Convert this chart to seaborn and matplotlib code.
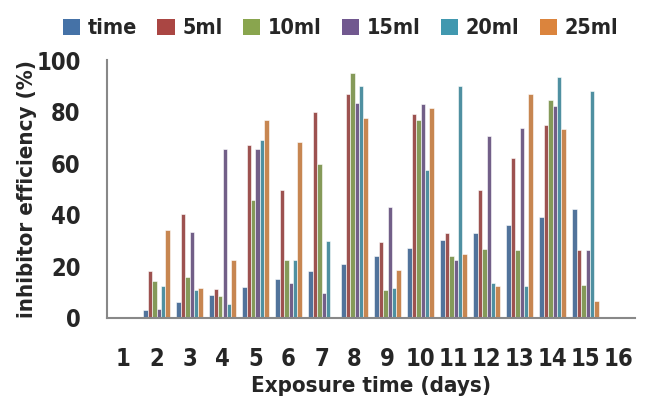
import numpy as np
import pandas as pd
import matplotlib
matplotlib.use("Agg")
import matplotlib.pyplot as plt
from matplotlib import font_manager
from matplotlib.patches import Patch
import seaborn as sns

# ---------------- data ----------------
categories = [str(i) for i in range(1, 17)]
series_names = ["time", "5ml", "10ml", "15ml", "20ml", "25ml"]
nan = np.nan
time_vals = [nan, 3, 6, 9, 12, 15, 18, 21, 24, 27, 30, 33, 36, 39, 42, nan]
ml5_vals = [nan, 18, 40.3, 11.1, 67, 49.7, 79.9, 86.9, 29.4, 78.9, 32.8, 49.7, 61.8, 74.9, 26.4, nan]
ml10_vals = [nan, 14.2, 15.8, 8.3, 45.6, 22.5, 59.8, 94.9, 10.6, 76.7, 23.8, 26.7, 26.2, 84.6, 12.7, nan]
ml15_vals = [nan, 3.2, 33.3, 65.4, 65.4, 13.3, 9.7, 83.5, 43.1, 82.9, 22.3, 70.7, 73.6, 82.1, 26.4, nan]
ml20_vals = [nan, 12.4, 10.6, 5.4, 68.8, 22.5, 29.8, 90.1, 11.4, 57.2, 89.9, 13.5, 12.2, 93.4, 87.8, nan]
ml25_vals = [nan, 34.2, 11.4, 22.5, 76.8, 68, nan, 77.6, 18.6, 81.3, 24.9, 12.2, 86.8, 73.2, 6.3, nan]
colors = ["#4572A7", "#AA4643", "#89A54E", "#71588F", "#4198AF", "#DB843D"]
y_ticks = [0, 20, 40, 60, 80, 100]

all_vals = [time_vals, ml5_vals, ml10_vals, ml15_vals, ml20_vals, ml25_vals]
rows = []
for name, vals in zip(series_names, all_vals):
    for c, v in zip(categories, vals):
        rows.append({"day": c, "series": name, "value": v})
df = pd.DataFrame(rows)

# ---------------- font ----------------
sns.set_theme(style="white")
names = {f.name for f in font_manager.fontManager.ttflist}
if "Liberation Sans Narrow" in names:
    fam = ["Liberation Sans Narrow", "DejaVu Sans"]
    stretch = "normal"
else:
    fam = ["DejaVu Sans"]
    stretch = "condensed"
plt.rcParams["font.family"] = fam
plt.rcParams["font.stretch"] = stretch
plt.rcParams["font.weight"] = "bold"
FS = 17

fig = plt.figure(figsize=(6.46, 4.05), dpi=100)
ax = fig.add_axes([107 / 646, 1 - 317.7 / 405, 528 / 646, 257.7 / 405])

sns.barplot(data=df, x="day", y="value", hue="series", order=categories,
            hue_order=series_names, palette=colors, width=0.8,
            errorbar=None, ax=ax, legend=False,
            edgecolor="white", linewidth=0.4)

ax.set_xlim(-0.5, 15.5)
ax.set_ylim(0, 100)
ax.set_yticks(y_ticks)
ax.set_yticklabels([str(t) for t in y_ticks], fontsize=FS, fontweight="bold")
ax.set_xticks(range(16))
ax.set_xticklabels(categories, fontsize=FS, fontweight="bold")
ax.set_xticks(np.arange(-0.5, 16, 1), minor=True)
ax.tick_params(axis="x", which="major", length=0, pad=21)
ax.tick_params(axis="x", which="minor", length=9, width=1.5, color="#888888", direction="out")
ax.tick_params(axis="y", which="major", length=8, width=1.5, color="#888888", direction="out", pad=11)

for s in ["top", "right"]:
    ax.spines[s].set_visible(False)
for s in ["left", "bottom"]:
    ax.spines[s].set_color("#888888")
    ax.spines[s].set_linewidth(1.5)

ax.set_xlabel("Exposure time (days)", fontsize=16, fontweight="bold")
ax.set_ylabel("inhibitor efficiency (%)", fontsize=16, fontweight="bold")
ax.yaxis.set_label_coords(-0.132, 0.5)
ax.xaxis.set_label_coords(0.5, -0.228)

handles = [Patch(facecolor=c, edgecolor="none", label=n) for c, n in zip(colors, series_names)]
fig.legend(handles=handles, loc="upper center", bbox_to_anchor=(0.527, 1.0), ncol=6,
           frameon=False, prop={"size": 15.5, "weight": "bold"},
           handlelength=0.8, handleheight=0.8, handletextpad=0.35, columnspacing=0.95,
           borderaxespad=0.45)

fig.savefig("out.png", dpi=100)
